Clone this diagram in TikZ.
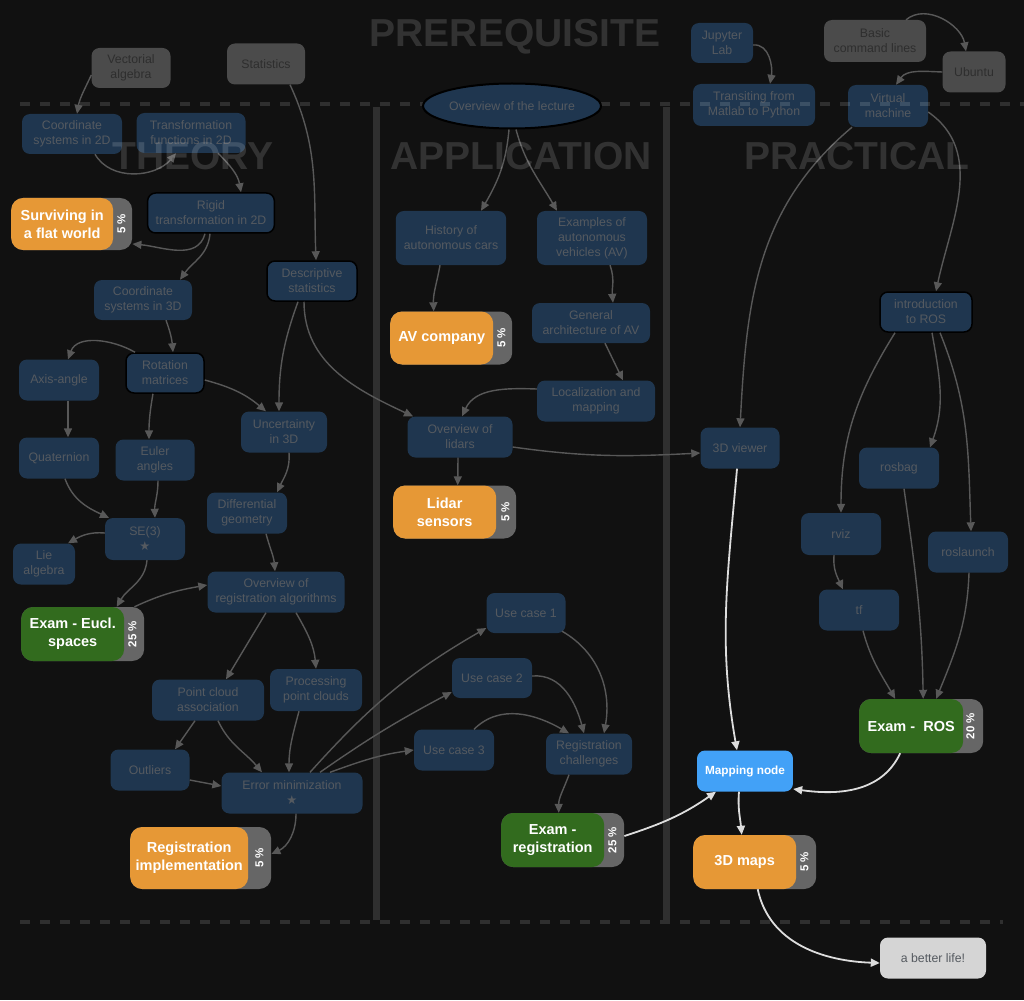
\documentclass[tikz,border=0pt]{standalone}
\usepackage{fontspec}
\setmainfont{Liberation Sans}
\newfontfamily\symfont{DejaVu Sans}
\usetikzlibrary{arrows.meta,shapes.geometric}

\definecolor{bgcol}{HTML}{111111}
\definecolor{topicblue}{HTML}{1F364F}
\definecolor{topictext}{HTML}{555A60}
\definecolor{prereqgrey}{HTML}{4B4B4B}
\definecolor{prereqtext}{HTML}{2E2E2E}
\definecolor{goalorange}{HTML}{E69836}
\definecolor{goalgreen}{HTML}{326B1E}
\definecolor{tabgrey}{HTML}{666666}
\definecolor{mapblue}{HTML}{42A1F7}
\definecolor{endgrey}{HTML}{D5D5D5}
\definecolor{linkgrey}{HTML}{585858}
\definecolor{linkwhite}{HTML}{DDDDDD}

\tikzset{
		topic/.style   = {shape=rectangle, rounded corners=8pt,
				fill=topicblue, text=topictext, align=center,
				font=\fontsize{12.3}{15}\selectfont,
				minimum width=80pt, minimum height=40pt,
				inner xsep=8pt, inner ysep=4pt},
		marked/.style  = {draw=black, line width=1.5pt},
		prereq/.style  = {topic, fill=prereqgrey, text=prereqtext},
		goal/.style    = {shape=rectangle, rounded corners=12pt,
				align=center, text=white,
				font=\fontsize{14.5}{18}\selectfont\bfseries,
				minimum width=103pt, minimum height=53pt, inner xsep=3pt},
		weight/.style  = {shape=rectangle, rounded corners=12pt, fill=tabgrey,
				minimum width=122pt, minimum height=53pt, anchor=west},
		pct/.style     = {rotate=90, text=white, inner sep=0pt,
				font=\fontsize{11.5}{14}\selectfont\bfseries},
		mapbox/.style  = {topic, fill=mapblue, text=white,
				font=\fontsize{11.8}{15}\selectfont\bfseries},
		endbox/.style  = {topic, fill=endgrey, text=topictext},
		link/.style    = {draw=linkgrey, line width=1.4pt,
				-{Triangle[length=9pt,width=8pt]}},
		mainlink/.style = {link, draw=linkwhite, line width=1.8pt},
		divider/.style = {draw=white, draw opacity=0.13, line width=4.5pt,
				dash pattern=on 10pt off 10pt},
		bar/.style     = {draw=white, draw opacity=0.13, line width=7pt},
		title/.style   = {text=white, text opacity=0.14, anchor=base,
				font=\fontsize{39}{39}\selectfont\bfseries}
	}

\begin{document}
\begin{tikzpicture}[x=1pt, y=-1pt]
\fill[bgcol] (0,0) rectangle (1024,1000);
\useasboundingbox (0,0) rectangle (1024,1000);

% prerequisites
\node[prereq, minimum width=79pt] (va) at (131,68) {Vectorial\\algebra};
\node[prereq, minimum width=78pt, minimum height=41pt] (stats) at (266,64) {Statistics};
\node[prereq, minimum width=102pt, minimum height=42pt] (bcl) at (875,41) {Basic\\command lines};
\node[prereq, minimum width=63pt, minimum height=41pt] (ubu) at (974,72) {Ubuntu};

% theory
\node[topic, minimum width=100pt] (cs2d) at (72,134) {Coordinate\\systems in 2D};
\node[topic, minimum width=109pt] (tf2d) at (191,133) {Transformation\\functions in 2D};
\node[topic, marked, minimum width=126pt] (rigid) at (211,213) {Rigid\\transformation in 2D};
\node[weight, minimum width=121pt, minimum height=52pt] (survw) at (11,224) {};
\node[goal, fill=goalorange, minimum width=102pt, minimum height=52pt, anchor=west] (surv) at (survw.west) {Surviving in\\a flat world};
\node[pct] (survp) at ([xshift=-11]survw.east) {5 \%};
\node[topic, minimum width=98pt] (cs3d) at (143,300) {Coordinate\\systems in 3D};
\node[topic, marked, minimum width=90pt] (ds) at (312,281) {Descriptive\\statistics};
\node[topic, minimum height=41pt] (aa) at (59,380) {Axis-angle};
\node[topic, marked, minimum width=78pt] (rm) at (165,373) {Rotation\\matrices};
\node[topic, minimum width=86pt, minimum height=41pt] (unc) at (284,432) {Uncertainty\\in 3D};
\node[topic, minimum height=41pt] (quat) at (59,458) {Quaternion};
\node[topic, minimum width=79pt, minimum height=41pt] (euler) at (155,460) {Euler\\angles};
\node[topic, minimum height=41pt] (dg) at (247,513) {Differential\\geometry};
\node[topic, minimum height=42pt] (se3) at (145,539) {SE(3)\\{\symfont ★}};
\node[topic, minimum width=62pt, minimum height=41pt] (lie) at (44,564) {Lie\\algebra};
\node[topic, minimum width=137pt, minimum height=41pt] (ora) at (276,592) {Overview of\\registration algorithms};
\node[weight, minimum width=123pt, minimum height=54pt] (euclw) at (21,634) {};
\node[goal, fill=goalgreen, minimum height=54pt, anchor=west] (eucl) at (euclw.west) {Exam - Eucl.\\spaces};
\node[pct] (euclp) at ([xshift=-12]euclw.east) {25 \%};
\node[topic, minimum width=112pt, minimum height=41pt] (pca) at (208,700) {Point cloud\\association};
\node[topic, minimum width=92pt, minimum height=42pt] (proc) at (316,690) {Processing\\point clouds};
\node[topic, minimum width=79pt, minimum height=41pt] (outl) at (150,770) {Outliers};
\node[topic, minimum width=141pt, minimum height=41pt] (err) at (292,793) {Error minimization\\{\symfont ★}};
\node[weight, minimum width=141pt, minimum height=62pt] (implw) at (130,858) {};
\node[goal, fill=goalorange, minimum width=118pt, minimum height=62pt, anchor=west] (impl) at (implw.west) {Registration\\implementation};
\node[pct] (implp) at ([xshift=-12]implw.east) {5 \%};

% application
\node[topic, minimum width=104pt, minimum height=54pt] (hist) at (451,238) {History of\\autonomous cars};
\node[topic, minimum width=110pt, minimum height=54pt] (exav) at (592,238) {Examples of\\autonomous\\vehicles (AV)};
\node[topic, minimum width=118pt] (gen) at (591,323) {General\\architecture of AV};
\node[weight, minimum height=53pt] (avcow) at (390,338) {};
\node[goal, fill=goalorange, anchor=west] (avco) at (avcow.west) {AV company};
\node[pct] (avcop) at ([xshift=-11]avcow.east) {5 \%};
\node[topic, minimum width=118pt, minimum height=41pt] (loc) at (596,401) {Localization and\\mapping};
\node[topic, minimum width=105pt, minimum height=41pt] (olid) at (460,437) {Overview of\\lidars};
\node[weight, minimum width=123pt] (lidw) at (393,512) {};
\node[goal, fill=goalorange, anchor=west] (lid) at (lidw.west) {Lidar\\sensors};
\node[pct] (lidp) at ([xshift=-11]lidw.east) {5 \%};
\node[topic, minimum width=79pt] (uc1) at (526,613) {Use case 1};
\node[topic] (uc2) at (492,678) {Use case 2};
\node[topic, minimum height=41pt] (uc3) at (454,750) {Use case 3};
\node[topic, minimum width=86pt, minimum height=41pt] (regch) at (589,754) {Registration\\challenges};
\node[weight, minimum width=123pt, minimum height=54pt] (regw) at (501,840) {};
\node[goal, fill=goalgreen, minimum height=54pt, anchor=west] (reg) at (regw.west) {Exam -\\registration};
\node[pct] (regp) at ([xshift=-12]regw.east) {25 \%};

% practical
\node[topic, minimum width=62pt] (jup) at (722,43) {Jupyter\\Lab};
\node[topic, minimum width=122pt, minimum height=42pt] (trans) at (754,105) {Transiting from\\Matlab to Python};
\node[topic, minimum height=42pt] (vm) at (888,106) {Virtual\\machine};
\node[topic, marked, minimum width=92pt] (ros) at (926,312) {introduction\\to ROS};
\node[topic, minimum width=79pt, minimum height=41pt] (viewer) at (740,448) {3D viewer};
\node[topic, minimum height=41pt] (rosbag) at (899,468) {rosbag};
\node[topic, minimum height=42pt] (rviz) at (841,534) {rviz};
\node[topic, minimum height=41pt] (roslaunch) at (968,552) {roslaunch};
\node[topic, minimum height=41pt] (tf) at (859,610) {tf};
\node[weight, minimum width=124pt, minimum height=54pt] (rosw) at (859,726) {};
\node[goal, fill=goalgreen, minimum width=104pt, minimum height=54pt, anchor=west] (rosx) at (rosw.west) {Exam -~ ROS};
\node[pct] (rosp) at ([xshift=-13]rosw.east) {20 \%};
\node[mapbox, minimum width=95pt, minimum height=41pt] (mapn) at (745,771) {Mapping node};
\node[weight, minimum width=123pt, minimum height=54pt] (mapsw) at (693,862) {};
\node[goal, fill=goalorange, minimum height=54pt, anchor=west] (maps) at (mapsw.west) {3D maps};
\node[pct] (mapsp) at ([xshift=-12]mapsw.east) {5 \%};
\node[endbox, minimum width=106pt, minimum height=41pt] (better) at (933,958) {a better life!};

% frame
\draw[divider] (20,104) -- (1024,104);
\draw[divider] (20,922) -- (1003,922);
\draw[bar] (376,107) -- (376,920);
\draw[bar] (666,107) -- (666,920);

\node[topic, shape=ellipse, draw=black, line width=2pt, inner sep=0pt,
	minimum width=163pt, minimum height=45pt] (lect) at (512,106) {Overview of the lecture};

% theory links
\draw[link] ([yshift=-7]va.west) to[out=-115,in=80] ([xshift=5]cs2d.north);
\draw[link] ([xshift=23]cs2d.south) to[out=-60,in=-130] ([xshift=-15]tf2d.south);
\draw[link] ([xshift=27]tf2d.south) to[out=-45,in=100] ([xshift=30]rigid.north);
\draw[link] ([xshift=-6]rigid.south) to[out=-105,in=-5] ([yshift=-20]survw.east);
\draw[link] ([xshift=-1]rigid.south) to[out=-95,in=55] ([xshift=37]cs3d.north);
\draw[link] ([xshift=24]stats.south) to[out=-65,in=92] ([xshift=4]ds.north);
\draw[link] ([xshift=23]cs3d.south) to[out=-70,in=95] ([xshift=8]rm.north);
\draw[link] ([xshift=-30]rm.north) to[out=150,in=70] ([xshift=9]aa.north);
\draw[link] ([xshift=-12]rm.south) to[out=-100,in=90] ([xshift=-6]euler.north);
\draw[link] ([yshift=-7]rm.east) to[out=-15,in=140] ([xshift=-18]unc.north);
\draw[link] ([xshift=-14]ds.south) to[out=-110,in=90] ([xshift=-5]unc.north);
\draw[link] ([xshift=-8]ds.south) to[out=-90,in=155] ([xshift=-47]olid.north);
\draw[link] ([xshift=9]aa.south) -- ([xshift=9]quat.north);
\draw[link] ([xshift=6]quat.south) to[out=-70,in=155] ([xshift=-36]se3.north);
\draw[link] ([xshift=3]euler.south) to[out=-90,in=92] ([xshift=10]se3.north);
\draw[link] ([yshift=6]se3.west) to[out=175,in=30] ([xshift=24]lie.north);
\draw[link] ([xshift=2]se3.south) to[out=-95,in=60] ([xshift=44]eucl.north);
\draw[link] ([xshift=-10]euclw.north east) to[out=25,in=190] ([yshift=7]ora.west);
\draw[link] ([xshift=5]unc.south) to[out=-85,in=65] ([xshift=30]dg.north);
\draw[link] ([xshift=19]dg.south) to[out=-75,in=95] ([xshift=-1]ora.north);
\draw[link] ([xshift=-10]ora.south) -- ([xshift=18]pca.north);
\draw[link] ([xshift=20]ora.south) to[out=-60,in=95] (proc.north);
\draw[link] ([xshift=-13]pca.south) -- ([xshift=25]outl.north);
\draw[link] ([xshift=10]pca.south) to[out=-65,in=130] ([xshift=-30]err.north);
\draw[link] ([xshift=-17]proc.south) to[out=-105,in=90] ([xshift=-3]err.north);
\draw[link] ([yshift=-10]outl.east) -- ([yshift=7]err.west);
\draw[link] ([xshift=18]err.north) to[out=48,in=-150] ([yshift=-15]uc1.west);
\draw[link] ([xshift=28]err.north) to[out=35,in=-152] ([yshift=-14]uc2.west);
\draw[link] ([xshift=38]err.north) to[out=20,in=-172] (uc3.west);
\draw[link] ([xshift=4]err.south) to[out=-90,in=25] ([yshift=4]implw.east);

% application links
\draw[link] ([xshift=-3]lect.south) to[out=-95,in=60] ([xshift=30]hist.north);
\draw[link] ([xshift=4]lect.south) to[out=-75,in=120] ([xshift=-35]exav.north);
\draw[link] ([xshift=-11]hist.south) to[out=-100,in=92] ([xshift=-8]avco.north);
\draw[link] ([xshift=18]exav.south) to[out=-70,in=95] ([xshift=22]gen.north);
\draw[link] ([xshift=14]gen.south) -- ([xshift=27]loc.north);
\draw[link] ([yshift=12]loc.west) to[out=178,in=65] ([xshift=2]olid.north);
\draw[link] ([xshift=-2]olid.south) -- ([xshift=13]lid.north);
\draw[link] ([yshift=-10]olid.east) to[out=-8,in=183] ([yshift=-5]viewer.west);
\draw[link] ([xshift=36,yshift=2]uc1.south) to[out=-30,in=80] ([xshift=15]regch.north);
\draw[link] ([yshift=2]uc2.east) to[out=5,in=105] ([xshift=-5]regch.north);
\draw[link] ([xshift=20]uc3.north) to[out=45,in=150] ([xshift=-20]regch.north);
\draw[link] ([xshift=-20]regch.south) to[out=-110,in=90] ([xshift=6]reg.north);

% practical links
\draw[link] ([yshift=-2]jup.east) to[out=5,in=80] ([xshift=16]trans.north);
\draw[link] ([xshift=31]bcl.north) to[out=40,in=100] ([xshift=-8]ubu.north);
\draw[link] (ubu.west) to[out=178,in=55] ([xshift=8]vm.north);
\draw[link] ([xshift=-36]vm.south) to[out=-140,in=87] (viewer.north);
\draw[link] ([yshift=-6]vm.east) to[out=-35,in=78] ([xshift=10]ros.north);
\draw[link] ([xshift=-31]ros.south) to[out=-122,in=90] (rviz.north);
\draw[link] ([xshift=6]ros.south) to[out=-80,in=70] ([xshift=31]rosbag.north);
\draw[link] ([xshift=14]ros.south) to[out=-68,in=92] ([xshift=3]roslaunch.north);
\draw[link] ([xshift=-7]rviz.south) to[out=-95,in=115] ([xshift=-16]tf.north);
\draw[link] ([xshift=4]tf.south) to[out=-75,in=120] ([xshift=-16]rosx.north);
\draw[link] ([xshift=5]rosbag.south) to[out=-82,in=91] ([xshift=12]rosx.north);
\draw[link] ([xshift=1]roslaunch.south) to[out=-92,in=68] ([xshift=25]rosx.north);

% main path
\draw[mainlink] ([xshift=-3]viewer.south) to[out=-95,in=100] ([xshift=-8]mapn.north);
\draw[mainlink] ([yshift=4]regw.east) to[out=18,in=-145] ([xshift=-29]mapn.south);
\draw[mainlink] ([xshift=-11]rosx.south) to[out=-115,in=-8] ([yshift=-18]mapn.east);
\draw[mainlink] ([xshift=-6]mapn.south) to[out=-95,in=95] ([xshift=-3]maps.north);
\draw[mainlink] ([xshift=13]maps.south) to[out=-78,in=178] ([yshift=-5]better.west);

% section titles
\node[title] (prereqtitle) at (515,47) {PREREQUISITE};
\node[title] (theorytitle) at (193,170) {THEORY};
\node[title] (appltitle) at (521,170) {APPLICATION};
\node[title] (practitle) at (857,170) {PRACTICAL};
\end{tikzpicture}
\end{document}
